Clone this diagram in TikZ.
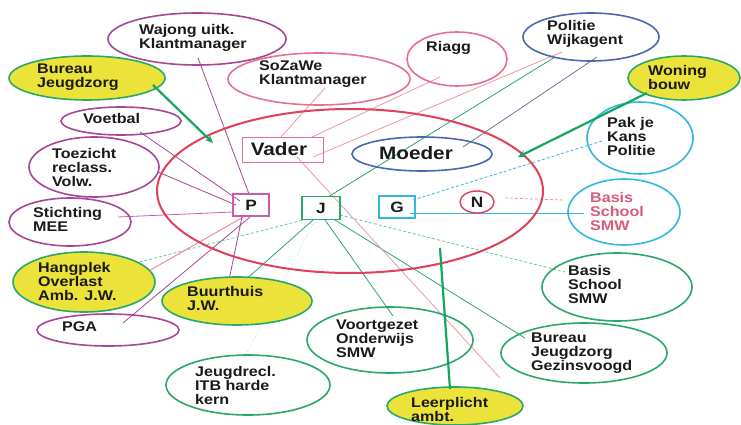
\documentclass[tikz,border=0pt]{standalone}
\usepackage{fontspec}
\setmainfont{Liberation Sans}[FakeStretch=1.15]
\usetikzlibrary{shapes.geometric,arrows.meta}
\pgfdeclarelayer{back}
\pgfdeclarelayer{bg}
\pgfsetlayers{back,bg,main}
\definecolor{purp}{RGB}{168,70,150}
\definecolor{pinkP}{RGB}{205,90,170}
\definecolor{pinkc}{RGB}{232,112,138}
\definecolor{pinkL}{RGB}{240,150,170}
\definecolor{redc}{RGB}{224,64,88}
\definecolor{greenc}{RGB}{42,168,106}
\definecolor{greenL}{RGB}{110,200,150}
\definecolor{greenF}{RGB}{190,225,200}
\definecolor{greenD}{RGB}{20,165,95}
\definecolor{yellowc}{RGB}{236,227,58}
\definecolor{cyanc}{RGB}{48,184,224}
\definecolor{bluec}{RGB}{74,104,176}
\definecolor{grayb}{RGB}{112,120,150}
\definecolor{textc}{RGB}{26,26,26}
\definecolor{pinkT}{RGB}{216,90,122}
\begin{document}
\begin{tikzpicture}[x=1pt,y=-1pt,
  ell/.style={draw, ellipse, inner sep=0, line width=1.6pt},
  yel/.style={fill=yellowc},
  txt/.style={font=\bfseries\fontsize{14}{14}\selectfont, text=textc, align=left, inner sep=0, anchor=west},
  boxn/.style={draw, rectangle, line width=1.4pt, inner sep=0, font=\bfseries\fontsize{15}{15}\selectfont, text=textc},
  con/.style={line width=0.8pt},
  dsh/.style={dash pattern=on 3pt off 2pt},
  garrow/.style={line width=2.2pt, draw=greenD, -{Stealth[length=8pt,width=7pt]}},
  gline/.style={line width=2.2pt, draw=greenD}]
\useasboundingbox (0,0) rectangle (741,425);
\begin{pgfonlayer}{back}
\fill[white] (0,0) rectangle (741,425);
\end{pgfonlayer}

% big family ellipse
\node[ell, draw=redc, line width=2pt, minimum width=386pt, minimum height=164pt] (fam) at (350,191) {};

% outer ellipses
\node[ell, draw=purp, minimum width=178pt, minimum height=52pt] (wajong) at (197,39) {};
\node[ell, draw=pinkc, minimum width=182pt, minimum height=52pt] (sozawe) at (319,79) {};
\node[ell, draw=pinkc, minimum width=100pt, minimum height=54pt] (riagg) at (457,59) {};
\node[ell, draw=bluec, minimum width=136pt, minimum height=48pt] (politie) at (591,37) {};
\node[ell, yel, draw=greenc, minimum width=112pt, minimum height=44pt] (woning) at (684,78) {};
\node[ell, draw=cyanc, minimum width=106pt, minimum height=72pt] (pak) at (640,138) {};
\node[ell, draw=cyanc, minimum width=112pt, minimum height=66pt] (basisP) at (624,212) {};
\node[ell, draw=greenc, minimum width=150pt, minimum height=68pt] (basisG) at (617,287) {};
\node[ell, draw=greenc, minimum width=166pt, minimum height=60pt] (gezins) at (584,353) {};
\node[ell, yel, draw=greenc, minimum width=136pt, minimum height=38pt] (leer) at (455,406) {};
\node[ell, draw=greenc, minimum width=166pt, minimum height=66pt] (voort) at (390,340) {};
\node[ell, draw=greenc, minimum width=164pt, minimum height=60pt] (jeugdr) at (248,385) {};
\node[ell, yel, draw=greenc, minimum width=150pt, minimum height=48pt] (buurt) at (237,301) {};
\node[ell, draw=purp, minimum width=142pt, minimum height=32pt] (pga) at (108,330) {};
\node[ell, yel, draw=greenc, minimum width=142pt, minimum height=60pt] (hang) at (84,282) {};
\node[ell, draw=purp, minimum width=122pt, minimum height=48pt] (mee) at (70,222) {};
\node[ell, draw=purp, minimum width=130pt, minimum height=60pt] (toez) at (94,167) {};
\node[ell, draw=purp, minimum width=120pt, minimum height=28pt] (voetbal) at (121,121) {};
\node[ell, yel, draw=greenc, minimum width=156pt, minimum height=44pt] (bjz) at (87,78) {};

% texts
\node[txt] (tWajong) at (139,37.5) {Wajong uitk.\\Klantmanager};
\node[txt] (tSozawe) at (259,74.5) {SoZaWe\\Klantmanager};
\node[txt] (tRiagg) at (426,48) {Riagg};
\node[txt] (tPolitie) at (547,34) {Politie\\Wijkagent};
\node[txt] (tWoning) at (648,77) {Woning\\bouw};
\node[txt] (tPak) at (607,136) {Pak je\\Kans\\Politie};
\node[txt, text=pinkT] (tBasisP) at (590,211) {Basis\\School\\SMW};
\node[txt] (tBasisG) at (568,284) {Basis\\School\\SMW};
\node[txt] (tGezins) at (531,353) {Bureau\\Jeugdzorg\\Gezinsvoogd};
\node[txt] (tLeer) at (411,409) {Leerplicht\\ambt.};
\node[txt] (tVoort) at (336,339) {Voortgezet\\Onderwijs\\SMW};
\node[txt] (tJeugdr) at (195,385) {Jeugdrecl.\\ITB harde\\kern};
\node[txt] (tBuurt) at (187,298) {Buurthuis\\J.W.};
\node[txt] (tPga) at (62,327) {PGA};
\node[txt] (tHang) at (38,281) {Hangplek\\Overlast\\Amb. J.W.};
\node[txt] (tMee) at (33,219) {Stichting\\MEE};
\node[txt] (tToez) at (52,167) {Toezicht\\reclass.\\Volw.};
\node[txt] (tVoetbal) at (83,118) {Voetbal};
\node[txt] (tBjz) at (37,77) {Bureau\\Jeugdzorg};

% family members
\node[boxn, draw=pinkc, minimum width=81pt, minimum height=25pt, font=\bfseries\fontsize{18}{18}\selectfont] (vader) at (283,150) {};
\node[txt, anchor=center, font=\bfseries\fontsize{18}{18}\selectfont] (tVader) at (279,149) {Vader};
\node[ell, draw=bluec, minimum width=140pt, minimum height=34pt] (moeder) at (422,154) {};
\node[txt, anchor=center, font=\bfseries\fontsize{18}{18}\selectfont] (tMoeder) at (416,153) {Moeder};
\node[boxn, draw=pinkP, minimum width=36pt, minimum height=22pt] (P) at (251,205) {P};
\node[boxn, draw=greenc, minimum width=38pt, minimum height=23pt] (J) at (321,208) {J};
\node[boxn, draw=cyanc, minimum width=36pt, minimum height=22pt] (G) at (397,207) {G};
\node[boxn, ellipse, draw=redc, minimum width=34pt, minimum height=22pt] (N) at (477,202) {N};

% free ends
\coordinate (bjzTip) at (213,143);
\coordinate (wonTip) at (518,157);
\coordinate (leerTop) at (440,248);
\coordinate (vaderEnd) at (500,378);
\coordinate (riaggEnd) at (312,137);

\begin{pgfonlayer}{bg}
% to P
\draw[con,purp] ([shift={(1,19)}]wajong.center) -- ([shift={(-2,-11)}]P.center);
\draw[con,purp] ([shift={(19,11)}]voetbal.center) -- ([shift={(-11,-4)}]P.center);
\draw[con,purp] ([shift={(64,5)}]toez.center) -- ([shift={(-15,0)}]P.center);
\draw[con,pinkP] ([shift={(48,-5)}]mee.center) -- ([shift={(-18,7)}]P.center);
\draw[con,pinkc] ([shift={(49,-2)}]hang.center) -- ([shift={(-6,11)}]P.center);
\draw[con,purp] ([shift={(15,-7)}]pga.center) -- ([shift={(-1,12)}]P.center);
\draw[con,purp] ([shift={(-9,-16)}]buurt.center) -- ([shift={(-9,12)}]P.center);
% to J
\draw[con,greenc] ([shift={(-36,20)}]politie.center) -- ([shift={(7,-11)}]J.center);
\draw[con,greenc] ([shift={(-8,12)}]J.center) -- ([shift={(6,-19)}]buurt.center);
\draw[con,greenL,dsh] ([shift={(-14,11)}]J.center) -- ([shift={(36,-15)}]hang.center);
\draw[con,greenc] ([shift={(4,12)}]J.center) -- ([shift={(3,-24)}]voort.center);
\draw[con,greenc] ([shift={(14,12)}]J.center) -- ([shift={(-59,-15)}]gezins.center);
\draw[con,greenL,dsh] ([shift={(19,7)}]J.center) -- ([shift={(-52,-15)}]basisG.center);
\draw[con,greenF,dotted] ([shift={(-3,-28)}]jeugdr.center) -- ([shift={(-6,12)}]J.center);
% to Vader / Moeder
\draw[con,pinkL] ([shift={(6,9)}]sozawe.center) -- ([shift={(-3,-12)}]vader.center);
\draw[con,pinkL] ([shift={(-17,18)}]riagg.center) -- (riaggEnd);
\draw[con,pinkL] ([shift={(-29,15)}]politie.center) -- ([shift={(30,7)}]vader.center);
\draw[con,pinkL] ([shift={(14,7)}]vader.center) -- (vaderEnd);
\draw[con,grayb] ([shift={(6,20)}]politie.center) -- ([shift={(41,-7)}]moeder.center);
% G and N
\draw[con,cyanc,dsh] ([shift={(16,-7)}]G.center) -- ([shift={(-38,3)}]pak.center);
\draw[con,cyanc] ([shift={(13,6)}]G.center) -- ([shift={(-40,1)}]basisP.center);
\draw[con,pinkL,dsh] ([shift={(28,-4)}]N.center) -- ([shift={(-60,-12)}]basisP.center);
\end{pgfonlayer}

% thick green arrows
\draw[garrow] ([shift={(66,7)}]bjz.center) -- (bjzTip);
\draw[garrow] ([shift={(-37,15)}]woning.center) -- (wonTip);
\draw[gline] (leerTop) -- ([shift={(-5,-17)}]leer.center);
\end{tikzpicture}
\end{document}
